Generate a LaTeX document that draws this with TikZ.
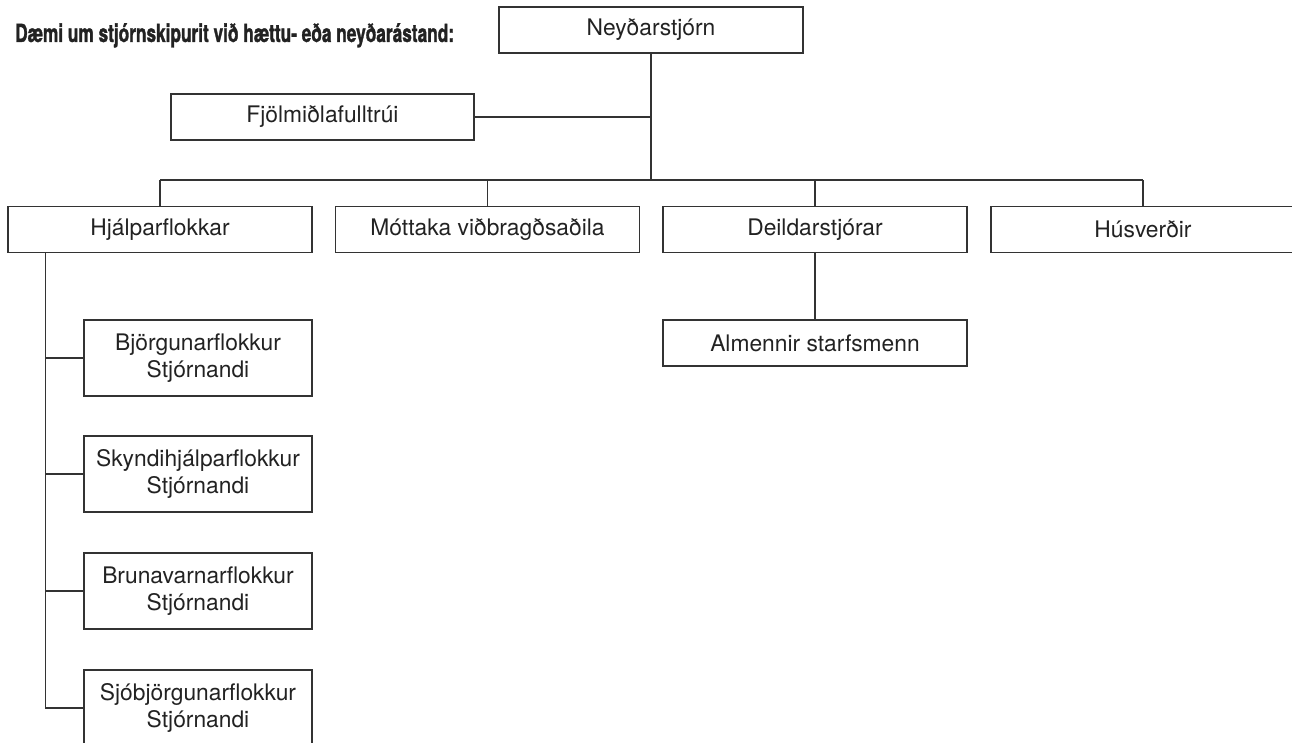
\documentclass[tikz,border=0pt]{standalone}
\usepackage{fontspec}
\setmainfont{TeX Gyre Heros}
\newfontfamily\titlefont[FakeStretch=0.69,FakeBold=1.2]{TeX Gyre Heros}
\usetikzlibrary{positioning}
\usetikzlibrary{calc}
\definecolor{linegray}{RGB}{51,51,51}
\definecolor{textgray}{RGB}{34,34,34}

\begin{document}
\begin{tikzpicture}[x=1pt,y=-1pt]
		  \tikzset{
			box/.style={draw=linegray,line width=1.3pt,text=textgray,inner sep=0pt,
			  align=center,minimum height=46pt,minimum width=304pt,
			  font=\fontsize{22.8}{27}\selectfont},
			subbox/.style={box,minimum width=228pt,minimum height=76pt},
			link/.style={draw=linegray,line width=1.3pt},
		  }
		  \clip (0,0) rectangle (1292,743);
		  %TITLE
		  \node[anchor=base west,inner sep=0pt,text=textgray,font=\titlefont\bfseries\fontsize{25}{29}\selectfont] (title) at (15,42) {Dæmi um stjórnskipurit við hættu- eða neyðarástand:};
		  %TOP
		  \node[box] (root) at (651,30) {Neyðarstjórn};
		  \node[box,minimum width=303pt] (media) at (322.5,117) {Fjölmiðlafulltrúi};
		  %ROW
		  \node[box] (help) at (160,229.5) {Hjálparflokkar};
		  \node[box] (recv) at (487.5,229.5) {Móttaka viðbragðsaðila};
		  \node[box] (dept) at (815,229.5) {Deildarstjórar};
		  \node[box] (house) at (1143,229.5) {Húsverðir};
		  \node[box] (staff) at (815,343) {Almennir starfsmenn};
		  %TEAMS
		  \node[subbox] (team1) at (198,358) {Björgunarflokkur\\Stjórnandi};
		  \node[subbox] (team2) at (198,474) {Skyndihjálparflokkur\\Stjórnandi};
		  \node[subbox] (team3) at (198,591) {Brunavarnarflokkur\\Stjórnandi};
		  \node[subbox] (team4) at (198,708) {Sjóbjörgunarflokkur\\Stjórnandi};
		  %BUS
		  \coordinate (busL) at (160,180);
		  \coordinate (busR) at (1143,180);
		  \draw[link] (root.south) -- (root.south |- busL);
		  \draw[link] (busL) -- (busR);
		  \foreach \n in {help,recv,dept,house}{
			\draw[link] (\n.north) -- (\n.north |- busL);
		  }
		  \draw[link] (media.east) -- (media.east -| root.south);
		  \draw[link] (dept.south) -- (staff.north);
		  %SPINE
		  \coordinate (spine) at ([xshift=38pt]help.south west);
		  \draw[link] (spine) -- (spine |- team4.west) -- (team4.west);
		  \foreach \n in {team1,team2,team3}{
			\draw[link] (\n.west) -- (\n.west -| spine);
		  }
\end{tikzpicture}
\end{document}
